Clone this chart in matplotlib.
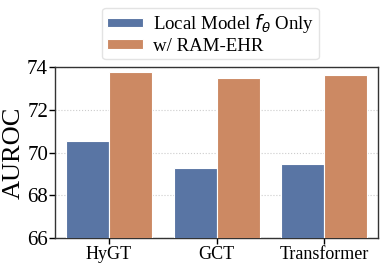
import numpy as np
import matplotlib
matplotlib.use("Agg")
import matplotlib.pyplot as plt

models = ["HyGT", "GCT", "Transformer"]
local_only = [70.55, 69.28, 69.45]
ram_ehr = [73.75, 73.48, 73.65]
series_names = [r"Local Model $f_\theta$ Only", "w/ RAM-EHR"]
colors = ["#5975A4", "#CC8963"]

plt.rcParams["font.family"] = ["Liberation Serif", "DejaVu Serif"]
plt.rcParams["mathtext.fontset"] = "dejavusans"

fig = plt.figure(figsize=(3.82, 2.65), dpi=100)
ax = fig.add_axes([0.144, 0.102, 0.846, 0.645])

x = np.arange(len(models))
w = 0.4
ax.bar(x - w / 2, local_only, w, color=colors[0], edgecolor="white", linewidth=0.8,
       label=series_names[0], zorder=3)
ax.bar(x + w / 2, ram_ehr, w, color=colors[1], edgecolor="white", linewidth=0.8,
       label=series_names[1], zorder=3)

ax.set_ylim(66, 74)
ax.set_xlim(-0.5, 2.5)
ax.set_yticks([66, 68, 70, 72, 74])
ax.set_xticks(x)
ax.set_xticklabels(models, fontsize=13)
ax.tick_params(axis="y", labelsize=15, length=4, width=1, pad=1)
ax.tick_params(axis="x", length=4, width=1, pad=2)
ax.set_ylabel("AUROC", fontsize=19, labelpad=2)
ax.yaxis.grid(True, linestyle=":", color="#cccccc", linewidth=0.8, zorder=0)
for s in ax.spines.values():
    s.set_color("#333333")
    s.set_linewidth(1)

ax.legend(loc="lower center", bbox_to_anchor=(0.481, 1.045), borderaxespad=0,
          fontsize=13.6, frameon=True, handlelength=1.95, handleheight=0.4,
          handletextpad=0.5, borderpad=0.25, labelspacing=0.12,
          fancybox=True, edgecolor="#dddddd")

fig.savefig("out.png", dpi=100)
